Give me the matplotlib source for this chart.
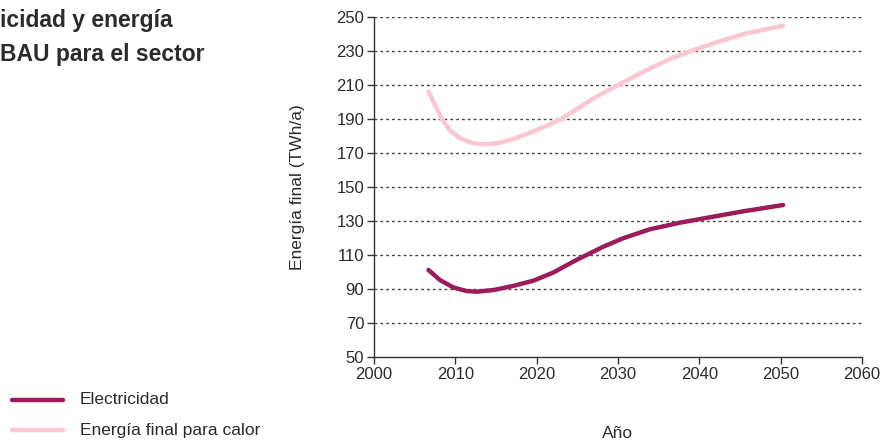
import matplotlib
matplotlib.use("Agg")
import matplotlib.pyplot as plt

plt.rcParams['font.family'] = ['Liberation Sans', 'DejaVu Sans']

years_elec = [2006.7, 2008.1, 2009.8, 2011.4, 2012.6, 2014.7, 2017.1, 2019.6, 2022.0, 2024.9,
              2028.2, 2030.6, 2033.9, 2037.6, 2041.3, 2045.4, 2050.3]
elec = [101.2, 95.3, 90.8, 88.8, 88.4, 89.4, 91.8, 94.9, 99.6, 107.1,
        114.9, 119.8, 125.1, 129.0, 132.2, 135.7, 139.4]

years_heat = [2006.7, 2007.5, 2008.3, 2009.3, 2010.6, 2012.2, 2013.8, 2015.5, 2017.1, 2019.2,
              2021.2, 2022.9, 2025.3, 2027.0, 2030.0, 2033.5, 2036.4, 2039.3, 2042.6, 2045.8, 2050.3]
heat = [206.1, 198.2, 190.4, 183.5, 178.6, 175.7, 175.1, 176.1, 178.2, 182.0,
        185.9, 189.8, 196.9, 202.2, 210.0, 218.8, 225.3, 230.6, 235.9, 240.4, 244.9]

yticks = [50, 70, 90, 110, 130, 150, 170, 190, 210, 230, 250]
xticks = [2000, 2010, 2020, 2030, 2040, 2050, 2060]

c_elec = '#9c1c5b'
c_heat = '#f9c6d1'
txt = '#2b2b2b'

fig = plt.figure(figsize=(8.82, 4.42), dpi=100)
ax = fig.add_axes([374/882, 1-357/442, (862-374)/882, (357-17)/442])

for y in yticks[1:]:
    ax.axhline(y, color='#444444', lw=1.0, ls=(0, (2, 2.2)), zorder=1)

ax.plot(years_heat, heat, color=c_heat, lw=3.2, solid_capstyle='round', solid_joinstyle='round', zorder=3)
ax.plot(years_elec, elec, color=c_elec, lw=3.2, solid_capstyle='round', solid_joinstyle='round', zorder=3)

ax.set_xlim(2000, 2060)
ax.set_ylim(50, 250)
ax.set_xticks(xticks)
ax.set_yticks(yticks)
for s in ['top', 'right']:
    ax.spines[s].set_visible(False)
for s in ['left', 'bottom']:
    ax.spines[s].set_color('#333333')
    ax.spines[s].set_linewidth(1.0)
ax.tick_params(axis='both', direction='out', length=5, width=1, color='#333333',
               labelsize=12, labelcolor=txt, pad=2)
ax.set_ylabel('Energía final (TWh/a)', fontsize=12.5, color=txt)
ax.yaxis.set_label_coords(-(374 - 305) / 488, 0.5)
ax.set_xlabel('Año', fontsize=12.5, color=txt)
ax.xaxis.set_label_coords(0.5, -(426 - 357) / 340)

fig.text(0, 1-21/442, 'icidad y energía', fontsize=16.5, fontweight='bold', color=txt, va='center', ha='left')
fig.text(0, 1-54/442, 'BAU para el sector', fontsize=16.5, fontweight='bold', color=txt, va='center', ha='left')

# legend
for yy, col, lab in [(400, c_elec, 'Electricidad'), (430, c_heat, 'Energía final para calor')]:
    fig.add_artist(plt.Line2D([12/882, 63/882], [1-yy/442, 1-yy/442], color=col, lw=3.2,
                              solid_capstyle='round', transform=fig.transFigure))
    fig.text(80/882, 1-yy/442, lab, fontsize=12.5, color=txt, va='center', ha='left')

fig.savefig('out.png', dpi=100)
